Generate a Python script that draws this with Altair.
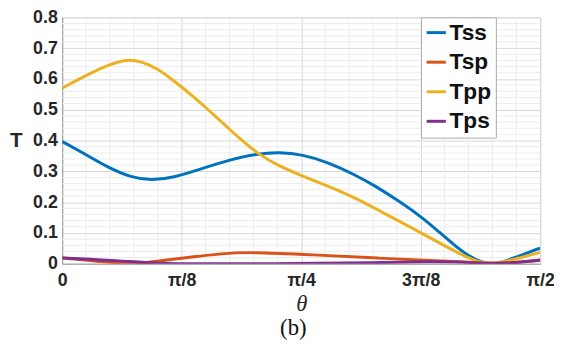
import altair as alt
import pandas as pd

# angles in degrees (0 .. 90 == 0 .. pi/2)
theta_ss = [0, 4.4, 8.7, 13.0, 16.8, 21.1, 25.4, 31.6, 36.6, 40.9, 45.2, 50.1, 55.1, 58.8, 63.1, 67.5, 70.5, 73.7, 76.5, 79.0, 81.1, 83.0, 85.5, 90]
tss = [0.397, 0.355, 0.312, 0.280, 0.270, 0.280, 0.304, 0.338, 0.357, 0.362, 0.355, 0.329, 0.289, 0.254, 0.207, 0.154, 0.110, 0.062, 0.025, 0.004, -0.002, 0.005, 0.022, 0.051]

theta_sp = [0, 6.9, 11.9, 15.6, 18.9, 22.5, 30.4, 35.6, 47.1, 59.4, 71.8, 75.5, 81.1, 84.8, 90]
tsp = [0.019, 0.008, -0.001, 0.003, 0.010, 0.018, 0.034, 0.038, 0.029, 0.018, 0.009, 0.006, 0.0, 0.003, 0.012]

theta_pp = [0, 4.4, 8.7, 12.1, 14.9, 18.0, 21.1, 24.2, 27.8, 31.0, 33.5, 36.9, 40.9, 45.2, 50.1, 55.1, 61.0, 67.5, 73.7, 77.5, 80.5, 84.8, 90]
tpp = [0.570, 0.611, 0.646, 0.664, 0.658, 0.633, 0.593, 0.550, 0.495, 0.445, 0.405, 0.356, 0.316, 0.285, 0.252, 0.215, 0.160, 0.101, 0.042, 0.010, -0.002, 0.012, 0.037]

theta_ps = [0, 6.9, 11.9, 18.0, 25.4, 44.0, 59.4, 68.0, 75.5, 81.1, 84.8, 90]
tps = [0.019, 0.013, 0.008, 0.001, 0.0, 0.0, 0.003, 0.007, 0.006, 0.0, 0.003, 0.011]

series_names = ["Tss", "Tsp", "Tpp", "Tps"]
series_colors = ["#0072BD", "#D95319", "#EDB120", "#7E2F8E"]

x_ticks = [0, 22.5, 45, 67.5, 90]
y_ticks = [0, 0.1, 0.2, 0.3, 0.4, 0.5, 0.6, 0.7, 0.8]
minor_x = [v * 4.5 for v in range(21) if v % 5 != 0]
minor_y = [round(v * 0.02, 2) for v in range(41) if v % 5 != 0]

rows = []
for name, xs, ys in [("Tss", theta_ss, tss), ("Tsp", theta_sp, tsp), ("Tpp", theta_pp, tpp), ("Tps", theta_ps, tps)]:
    for i, (a, b) in enumerate(zip(xs, ys)):
        rows.append({"series": name, "theta": a, "T": b, "k": series_names.index(name), "i": i})
df = pd.DataFrame(rows)

W, H = 485, 250
xscale = alt.Scale(domain=[0, 90], nice=False, zero=False)
yscale = alt.Scale(domain=[0, 0.8], nice=False)

xaxis = alt.Axis(
    values=x_ticks,
    labelExpr="datum.value == 0 ? '0' : datum.value == 22.5 ? 'π/8' : datum.value == 45 ? 'π/4' : datum.value == 67.5 ? '3π/8' : 'π/2'",
    grid=True, gridColor="#d6d6d6", gridWidth=1,
    domain=True, domainColor="#9a9a9a", ticks=False,
    labelFont="Liberation Sans", labelFontWeight="bold", labelFontSize=18, labelColor="#262626",
    labelPadding=8, labelFlush=False,
    title="θ", titleFont="Liberation Serif", titleFontStyle="italic", titleFontWeight="normal",
    titleFontSize=23, titleColor="#262626", titlePadding=3,
)
yaxis = alt.Axis(
    values=y_ticks,
    labelExpr="datum.value == 0 ? '0' : format(datum.value, '.1f')",
    grid=True, gridColor="#d6d6d6", gridWidth=1,
    domain=True, domainColor="#9a9a9a", ticks=False,
    labelFont="Liberation Sans", labelFontWeight="bold", labelFontSize=18, labelColor="#262626",
    labelPadding=5, labelFlush=False,
    title="T", titleAngle=0, titleFont="Liberation Sans", titleFontWeight="bold", titleFontSize=21,
    titleColor="#262626", titleX=-47, titleY=H / 2, titleAlign="center", titleBaseline="middle",
)

vgrid = alt.Chart(pd.DataFrame({"mx": minor_x})).mark_rule(color="#ececec", strokeWidth=1).encode(
    x=alt.X("mx:Q", scale=xscale, axis=xaxis)
)
hgrid = alt.Chart(pd.DataFrame({"my": minor_y})).mark_rule(color="#ececec", strokeWidth=1).encode(
    y=alt.Y("my:Q", scale=yscale, axis=yaxis)
)

lines = alt.Chart(df).mark_line(strokeWidth=3, interpolate="basis", clip=True).encode(
    x=alt.X("theta:Q", scale=xscale, axis=xaxis),
    y=alt.Y("T:Q", scale=yscale, axis=yaxis),
    color=alt.Color(
        "series:N",
        scale=alt.Scale(domain=series_names, range=series_colors),
        sort=series_names,
        legend=alt.Legend(
            orient="none", legendX=364, legendY=0, title=None,
            strokeColor="#aaaaaa", fillColor="white", padding=4,
            symbolType="stroke", symbolSize=380, symbolStrokeWidth=3,
            labelFont="Liberation Sans", labelFontWeight="bold", labelFontSize=23, labelColor="#111111",
            rowPadding=6, labelOffset=2,
        ),
    ),
    order=alt.Order("i:Q"),
    detail="k:N",
)

chart = alt.layer(vgrid, hgrid, lines).properties(
    width=W, height=H,
    autosize=alt.AutoSizeParams(type="none"),
    padding={"left": 55, "top": 7, "right": 14, "bottom": 80},
    title=alt.TitleParams(text="(b)", orient="bottom", font="Liberation Serif", fontSize=23,
                          fontWeight="normal", anchor="middle", dx=-8, offset=2, color="#111111"),
).configure_view(stroke="#aaaaaa", strokeWidth=1).configure(background="white")

chart.save("out.html", embed_options={"renderer": "svg", "actions": False})
